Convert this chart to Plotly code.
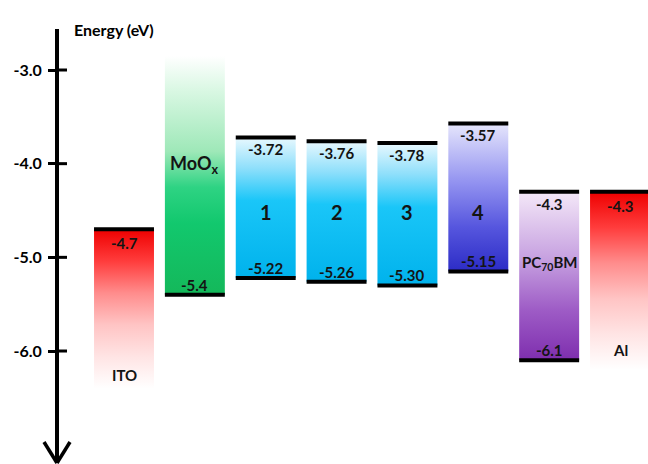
import plotly.graph_objects as go

# Energy levels (eV) of the device stack
materials = ["ITO", "MoO<sub>x</sub>", "1", "2", "3", "4", "PC<sub>70</sub>BM", "Al"]
upper_level = [-4.7, None, -3.72, -3.76, -3.78, -3.57, -4.3, -4.3]
lower_level = [None, -5.4, -5.22, -5.26, -5.30, -5.15, -6.1, None]
upper_text = ["-4.7", "", "-3.72", "-3.76", "-3.78", "-3.57", "-4.3", "-4.3"]
lower_text = ["", "-5.4", "-5.22", "-5.26", "-5.30", "-5.15", "-6.1", ""]
# open-ended boxes fade out towards these energies
fade_end = [-6.4, -2.85, None, None, None, None, None, -6.2]

# material name placement inside each box
name_y = [-6.26, -4.01, -4.52, -4.52, -4.52, -4.52, -5.06, -5.99]
name_size = [15, 18, 20, 20, 20, 20, 15, 15]

tick_vals = [-3.0, -4.0, -5.0, -6.0]
tick_text = ["-3.0", "-4.0", "-5.0", "-6.0"]

# gradient colour stops, 0 = bottom of box, 1 = top of box
red_fade = [[0, "#ffffff"], [0.2, "#ffe4e4"], [0.4, "#ffc4c4"], [0.6, "#ff8c8c"],
            [0.8, "#ff3c3c"], [1, "#ee0000"]]
green = [[0, "#14b85a"], [0.3, "#12c86e"], [0.45, "#2ed383"], [0.6, "#9ee8b8"],
         [0.85, "#d8f7e2"], [1, "#ffffff"]]
cyan = [[0, "#00b2ec"], [0.55, "#1ac6f8"], [0.78, "#8edffb"], [1, "#e8f8fe"]]
blue = [[0, "#2c2cc6"], [0.3, "#5656de"], [0.6, "#9292f0"], [1, "#e6e6fc"]]
purple = [[0, "#7e2eae"], [0.3, "#9e5cc6"], [0.6, "#c6a0e0"], [1, "#f4e8f8"]]
box_scales = [red_fade, green, cyan, cyan, cyan, blue, purple, red_fade]

half_w = 0.423
font_family = "Lato, 'Open Sans', sans-serif"
ink = "#141414"
label_size = 15

fig = go.Figure()
annotations = []

for i, name in enumerate(materials):
    top = upper_level[i] if upper_level[i] is not None else fade_end[i]
    bottom = lower_level[i] if lower_level[i] is not None else fade_end[i]
    x0, x1 = i - half_w, i + half_w
    fig.add_trace(go.Scatter(
        x=[x0, x1, x1, x0, x0], y=[bottom, bottom, top, top, bottom],
        mode="lines", line=dict(width=0), fill="toself",
        fillgradient=dict(type="vertical", colorscale=box_scales[i],
                          start=bottom, stop=top),
        hoverinfo="skip"))
    for lvl in (upper_level[i], lower_level[i]):
        if lvl is not None:
            fig.add_trace(go.Scatter(x=[x0, x1], y=[lvl, lvl], mode="lines",
                                     line=dict(color="#000000", width=4),
                                     hoverinfo="skip"))
    if upper_level[i] is not None:
        shift = -14 if lower_level[i] is None else -12
        annotations.append(dict(x=i, y=upper_level[i], text=upper_text[i],
                                showarrow=False, yshift=shift,
                                font=dict(size=label_size, color=ink)))
    if lower_level[i] is not None:
        annotations.append(dict(x=i, y=lower_level[i], text=lower_text[i],
                                showarrow=False, yshift=10,
                                font=dict(size=label_size, color=ink)))
    annotations.append(dict(x=i, y=name_y[i], text=name, showarrow=False,
                            font=dict(size=name_size[i], color=ink)))

# energy axis title
annotations.append(dict(x=72 / 648, y=1 - 18 / 464, xref="paper", yref="paper",
                        xanchor="left", text="Energy (eV)", showarrow=False,
                        font=dict(size=16, color="#000000")))

axis_x = 57 / 648
shapes = [
    # axis line with open arrow head at the bottom
    dict(type="line", xref="paper", yref="paper", x0=axis_x, x1=axis_x,
         y0=1 - 29 / 464, y1=1 / 464, line=dict(color="#000000", width=4)),
    dict(type="line", xref="paper", yref="paper", x0=44 / 648, x1=axis_x,
         y0=1 - 442 / 464, y1=1 / 464, line=dict(color="#000000", width=3.5)),
    dict(type="line", xref="paper", yref="paper", x0=70 / 648, x1=axis_x,
         y0=1 - 442 / 464, y1=1 / 464, line=dict(color="#000000", width=3.5)),
]
# inner half of each tick mark
for tv in tick_vals:
    shapes.append(dict(type="line", xref="paper", yref="y", x0=axis_x,
                       x1=67 / 648, y0=tv, y1=tv,
                       line=dict(color="#000000", width=3)))

fig.update_layout(
    width=648, height=464,
    margin=dict(l=0, r=0, t=0, b=0),
    paper_bgcolor="white", plot_bgcolor="white",
    showlegend=False,
    font=dict(family=font_family, weight="bold", color=ink),
    xaxis=dict(range=[-1.750, 7.395], visible=False, fixedrange=True),
    yaxis=dict(range=[-7.2063, -2.2527], anchor="free", position=axis_x,
               showgrid=False, zeroline=False, showline=False,
               tickvals=tick_vals, ticktext=tick_text,
               ticks="outside", ticklen=9, tickwidth=3, tickcolor="#000000",
               ticklabelstandoff=3,
               tickfont=dict(size=16, color="#000000", family=font_family,
                             weight="bold"),
               fixedrange=True),
    annotations=annotations,
    shapes=shapes,
)

fig.write_html("out.html")
